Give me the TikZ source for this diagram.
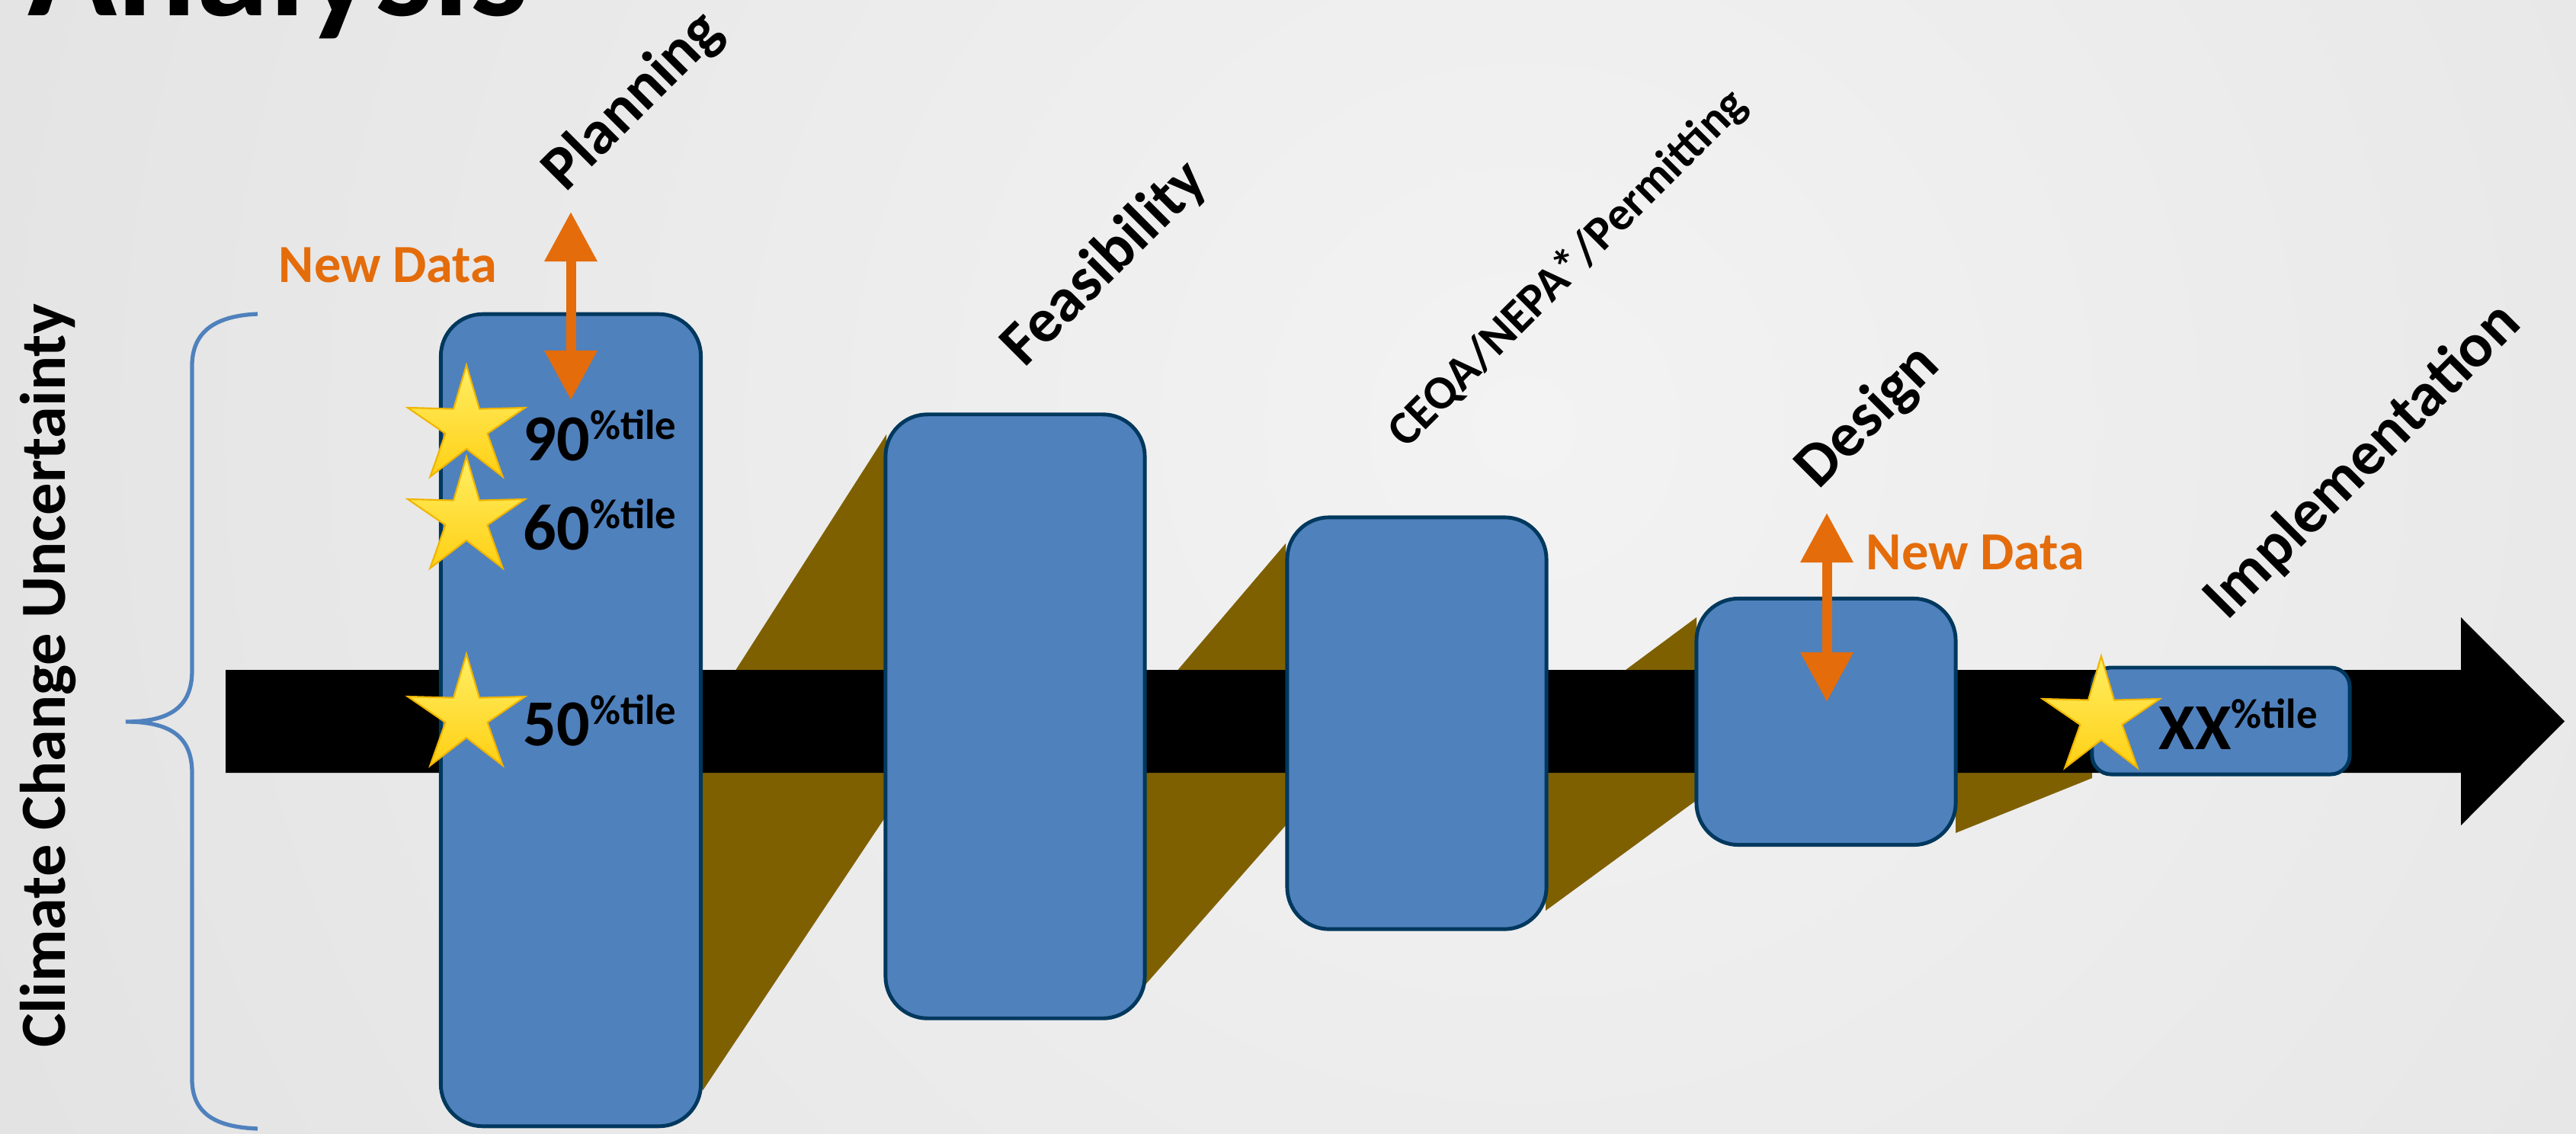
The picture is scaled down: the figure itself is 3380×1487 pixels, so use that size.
\documentclass[tikz,border=0pt]{standalone}
\usepackage{fontspec}
\setmainfont{Carlito}
\usetikzlibrary{shapes.geometric,arrows.meta}
\definecolor{boxblue}{RGB}{79,129,189}
\definecolor{boxedge}{RGB}{0,56,94}
\definecolor{funnel}{RGB}{127,96,0}
\definecolor{newdata}{RGB}{228,108,10}
\definecolor{starlight}{RGB}{255,238,100}
\definecolor{stardark}{RGB}{255,208,20}
\definecolor{staredge}{RGB}{240,180,0}
\definecolor{bglight}{RGB}{243,243,243}
\definecolor{bgdark}{RGB}{221,221,221}
\newcommand\pcttile[1]{\raisebox{7.7pt}{\fontsize{15.6}{18}\selectfont #1}}

\begin{document}
\begin{tikzpicture}[x=0.01cm, y=-0.01cm,
    stage/.style={draw=boxedge, line width=1.4pt, fill=boxblue, rounded corners=0.55cm, inner sep=0pt},
    goldstar/.style={star, star points=5, star point ratio=2.8, minimum size=1.62cm, inner sep=0pt,
      draw=staredge, line width=0.6pt, top color=starlight, bottom color=stardark},
    phase/.style={rotate=45, anchor=base west, inner sep=0pt, font=\fontsize{23.3}{28}\selectfont\bfseries},
    pct/.style={anchor=base west, inner sep=0pt, font=\fontsize{24.5}{29}\selectfont\bfseries},
    newtext/.style={anchor=base west, inner sep=0pt, text=newdata, font=\fontsize{20}{24}\selectfont\bfseries},
    newarrow/.style={draw=newdata, line width=3.7pt,
      {Triangle[width=18.8pt,length=18.5pt]}-{Triangle[width=18.8pt,length=18.5pt]}}]
	\useasboundingbox (0,0) rectangle (3380,1487);
	\clip (0,0) rectangle (3380,1487);
	\fill[bgdark] (0,0) rectangle (3380,1487);
	\shade[inner color=bglight, outer color=bgdark] (2000,560) circle [radius=30cm];

	\fill[funnel] (922,947) -- (1163,570) -- (1163,1070) -- (922,1431) -- cycle;
	\fill[funnel] (1502,930) -- (1687,713) -- (1687,1083) -- (1502,1293) -- cycle;
	\fill[funnel] (2028,957) -- (2226,810) -- (2226,1050) -- (2028,1195) -- cycle;
	\fill[funnel] (2566,947) -- (2745,880) -- (2745,1021) -- (2566,1093) -- cycle;
	\fill[black] (296,879) -- (3229,879) -- (3229,810) -- (3365,946.5) -- (3229,1083)
		-- (3229,1014) -- (296,1014) -- cycle;

	\node[stage, minimum width=3.41cm, minimum height=10.65cm] (box1) at (749,945) {};
	\node[stage, minimum width=3.40cm, minimum height=7.92cm] (box2) at (1332,940) {};
	\node[stage, minimum width=3.40cm, minimum height=5.40cm] (box3) at (1859,949) {};
	\node[stage, minimum width=3.40cm, minimum height=3.23cm] (box4) at (2396,947) {};
	\node[stage, minimum width=3.38cm, minimum height=1.40cm, rounded corners=0.25cm] (box5) at (2914,946) {};

	\draw[boxblue, line width=1.5pt] (338,412) .. controls (290,414) and (252,430) .. (252,480)
		-- (252,880) .. controls (252,930) and (220,947) .. (165,947)
		.. controls (220,947) and (252,964) .. (252,1014)
		-- (252,1416) .. controls (252,1466) and (290,1479) .. (338,1481);

	\node[goldstar] (s90) at (612,560) {};
	\node[goldstar] (s60) at (612,680) {};
	\node[goldstar] (s50) at (612,939) {};
	\node[goldstar] (sxx) at (2757,942) {};
	\node[pct] (p90) at (686,604) {90\pcttile{\%tile}};
	\node[pct] (p60) at (686,721) {60\pcttile{\%tile}};
	\node[pct] (p50) at (686,978) {50\pcttile{\%tile}};
	\node[pct] (pxx) at (2832,983) {XX\pcttile{\%tile}};

	\coordinate (nd1a) at (749,278);
	\coordinate (nd1b) at (749,525);
	\coordinate (nd2a) at (2397,673);
	\coordinate (nd2b) at (2397,921);
	\draw[newarrow] (nd1a) -- (nd1b);
	\draw[newarrow] (nd2a) -- (nd2b);
	\node[newtext] (nd1) at (365,370) {New Data};
	\node[newtext] (nd2) at (2448,747) {New Data};

	\node[phase] (plan) at (742,254) {Planning};
	\node[phase] (feas) at (1344,484) {Feasibility};
	\node[phase, font=\fontsize{17.7}{21}\selectfont\bfseries] (ceqa) at (1845,590) {CEQA/NEPA*/Permitting};
	\node[phase] (desg) at (2386,644) {Design};
	\node[phase] (impl) at (2922,816) {Implementation};

	\node[rotate=90, anchor=base, inner sep=0pt, font=\fontsize{24}{29}\selectfont\bfseries] (ccu) at (85,887) {Climate Change Uncertainty};
	\node[anchor=base west, inner sep=0pt, font=\fontsize{55}{60}\selectfont\bfseries] (title) at (36,20) {Analysis};
\end{tikzpicture}
\end{document}
